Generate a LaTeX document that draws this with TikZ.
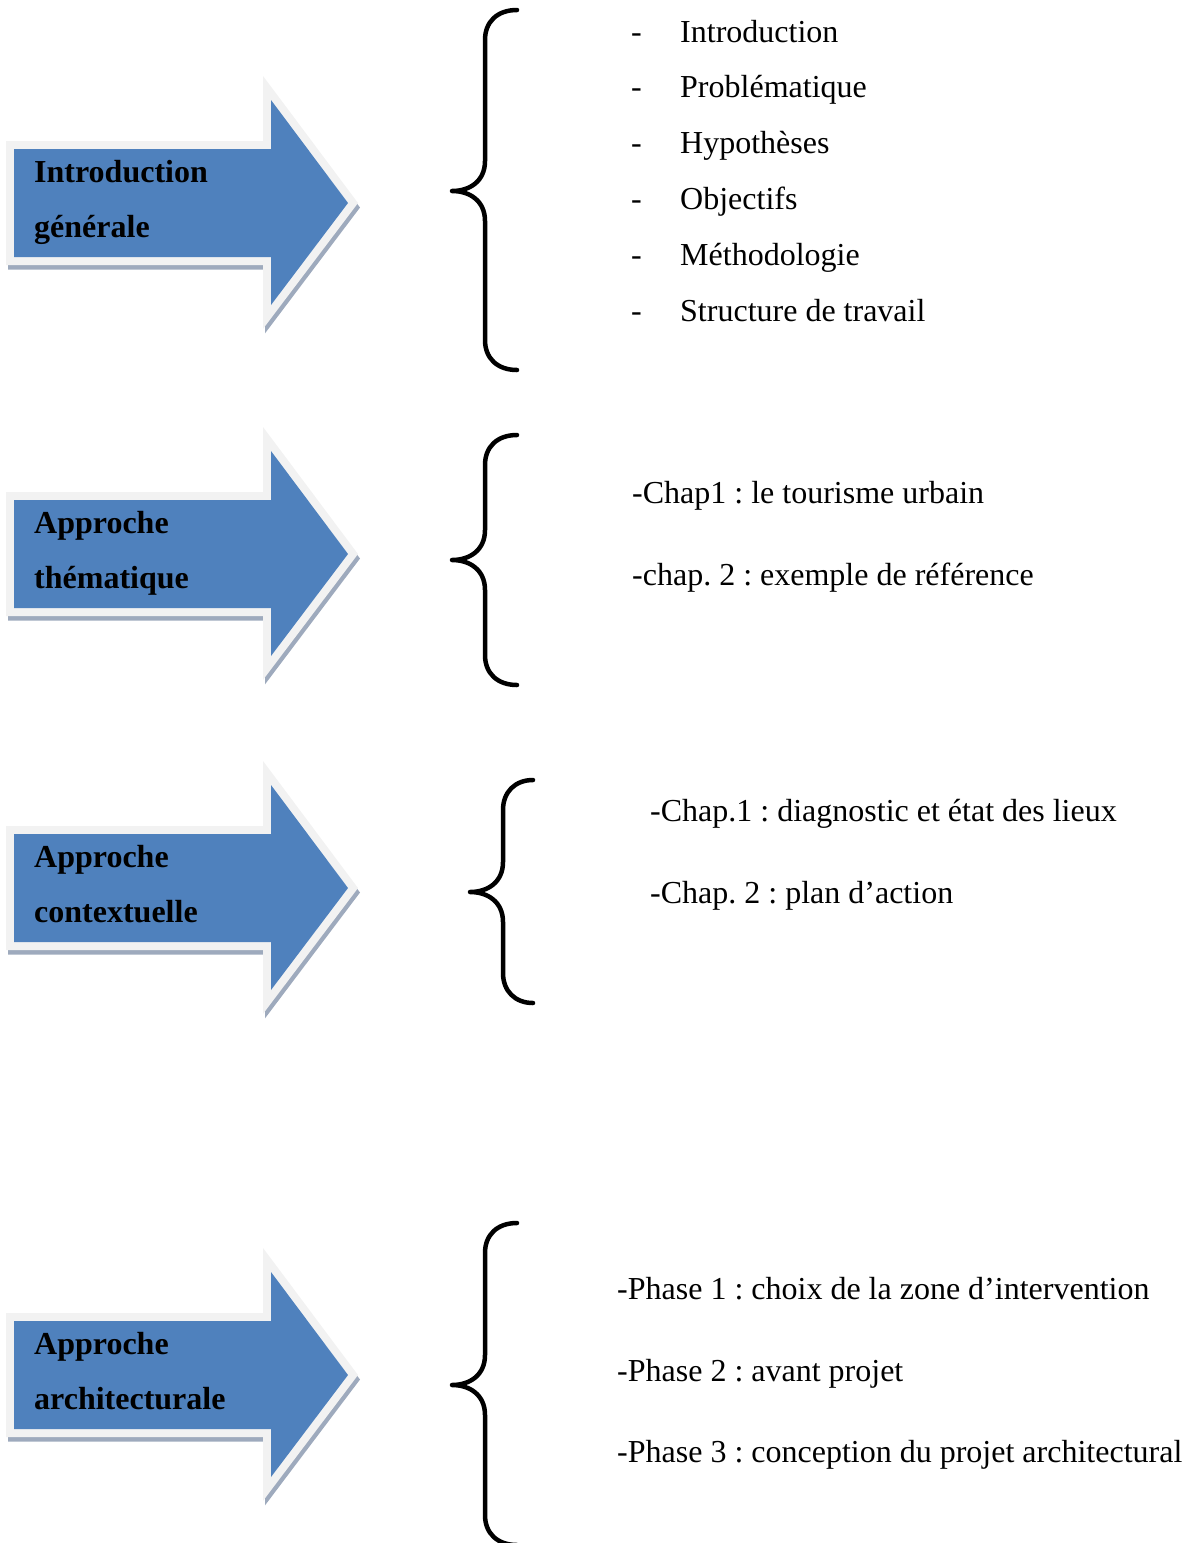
\documentclass[tikz,border=0pt]{standalone}
\usepackage{fontspec}
\setmainfont{Liberation Serif}
\frenchspacing
\definecolor{arrowblue}{HTML}{4F81BD}
\definecolor{arrowrim}{HTML}{F2F2F2}
\definecolor{arrowshadow}{HTML}{9EAABD}
\tikzset{
  txt/.style={anchor=base west, inner sep=0pt, font=\fontsize{32}{38}\selectfont},
  btxt/.style={txt, font=\fontsize{32}{38}\selectfont\bfseries},
  bracestyle/.style={line width=4.5pt, line cap=round, line join=round, black},
}
\newcommand\myarrow[1]{%
  \begin{scope}[shift={(0,#1)}]
    \draw[arrowshadow, line width=16pt, miter limit=10, shift={(2,4.5)}]
      (14,149) -- (271,149) -- (271,100) -- (348,203) -- (271,305) -- (271,257) -- (14,257) -- cycle;
    \draw[arrowrim, line width=16pt, miter limit=10, fill=arrowrim]
      (14,149) -- (271,149) -- (271,100) -- (348,203) -- (271,305) -- (271,257) -- (14,257) -- cycle;
    \fill[arrowblue]
      (14,149) -- (271,149) -- (271,100) -- (348,203) -- (271,305) -- (271,257) -- (14,257) -- cycle;
  \end{scope}}
% #1 x end, #2 x vertical, #3 x tip, #4 top, #5 tip y, #6 bottom
\newcommand\mybrace[6]{%
  \draw[bracestyle]
    (#1,#4) .. controls ({#2+12},#4) and (#2,{#4+12}) .. (#2,{#4+30})
    -- (#2,{#5-30}) .. controls (#2,{#5-10}) and ({#3+18},#5) .. (#3,#5)
    .. controls ({#3+18},#5) and (#2,{#5+10}) .. (#2,{#5+30})
    -- (#2,{#6-30}) .. controls (#2,{#6-12}) and ({#2+12},#6) .. (#1,#6);}
\begin{document}
\begin{tikzpicture}[x=1pt,y=-1pt]
\useasboundingbox (0,0) rectangle (1196,1543);
% arrows
\myarrow{0}
\myarrow{351}
\myarrow{685}
\myarrow{1172}
\node[btxt] (a1l1) at (34,182) {Introduction};
\node[btxt] (a1l2) at (34,237) {générale};
\node[btxt] (a2l1) at (34,533) {Approche};
\node[btxt] (a2l2) at (34,588) {thématique};
\node[btxt] (a3l1) at (34,867) {Approche};
\node[btxt] (a3l2) at (34,922) {contextuelle};
\node[btxt] (a4l1) at (34,1354) {Approche};
\node[btxt] (a4l2) at (34,1409) {architecturale};
% braces
\mybrace{517}{485}{452}{10}{191}{370}
\mybrace{517}{485}{452}{435}{560}{685}
\mybrace{533}{503}{470}{780}{892}{1003}
\mybrace{517}{485}{452}{1223}{1385}{1545}
% group 1
\foreach \t [count=\i from 0] in {Introduction,Problématique,Hypothèses,Objectifs,Méthodologie,Structure de travail}{
  \node[txt] (d\i) at (631,{42+55.8*\i}) {-};
  \node[txt] (g1\i) at (680,{42+55.8*\i}) {\t};
}
% group 2
\node[txt] (g2a) at (632,503) {-Chap1 : le tourisme urbain};
\node[txt] (g2b) at (632,585) {-chap. 2 : exemple de référence};
% group 3
\node[txt] (g3a) at (650,821) {-Chap.1 : diagnostic et état des lieux};
\node[txt] (g3b) at (650,903) {-Chap. 2 : plan d’action};
% group 4
\node[txt] (g4a) at (617,1299) {-Phase 1 : choix de la zone d’intervention};
\node[txt] (g4b) at (617,1381) {-Phase 2 : avant projet};
\node[txt] (g4c) at (617,1462) {-Phase 3 : conception du projet architectural};
\end{tikzpicture}
\end{document}
